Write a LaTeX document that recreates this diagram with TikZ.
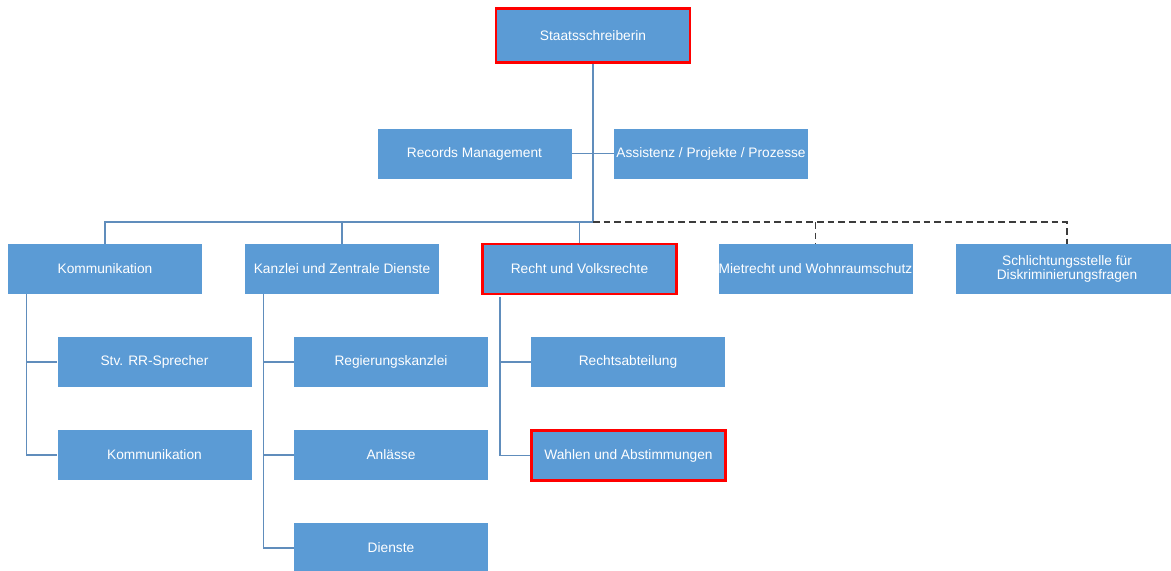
\documentclass[tikz,border=0pt]{standalone}
\usepackage{fontspec}
\setmainfont{Liberation Sans}
\usetikzlibrary{calc}
\definecolor{boxblue}{RGB}{91,155,213}
\definecolor{lineblue}{RGB}{96,141,188}
\definecolor{dashgray}{RGB}{60,60,60}
\tikzset{
  orgbox/.style={fill=boxblue, text=white, minimum width=145.5pt, minimum height=37.5pt,
    inner xsep=0pt, inner ysep=2pt, align=center, font=\fontsize{10.3}{11}\selectfont},
  marked/.style={draw=red, line width=2pt},
  conn/.style={draw=lineblue, line width=1.1pt},
  dashline/.style={draw=dashgray, line width=1.1pt, dash pattern=on 5pt off 3pt}
}
\begin{document}
\begin{tikzpicture}[x=0.75pt,y=-0.75pt]
  \useasboundingbox (0,0) rectangle (1171,571);

  % Top
  \node [orgbox,marked,minimum height=40.5pt] (ss) at (593,35.5) {Staatsschreiberin};
  \node [orgbox] (rm) at (474.5,153.5) {Records Management};
  \node [orgbox] (ass) at (711,153.5) {Assistenz / Projekte / Prozesse};
  \coordinate (bus) at (593,222);

  % Departments
  \node [orgbox] (kom) at (105,269) {Kommunikation};
  \node [orgbox] (kanz) at (342,269) {Kanzlei und Zentrale Dienste};
  \node [orgbox,marked] (recht) at (579.5,269) {Recht und Volksrechte};
  \node [orgbox] (miet) at (815.5,269) {Mietrecht und Wohnraumschutz};
  \node [orgbox,minimum width=166.5pt] (schl) at (1067,269) {Schlichtungsstelle für\\Diskriminierungsfragen};

  % Sections
  \node [orgbox] (stv) at (154.5,362) {Stv. RR-Sprecher};
  \node [orgbox] (kom2) at (154.5,455) {Kommunikation};
  \node [orgbox] (reg) at (391,362) {Regierungskanzlei};
  \node [orgbox] (anl) at (391,455) {Anlässe};
  \node [orgbox] (dien) at (391,548) {Dienste};
  \node [orgbox] (rab) at (628,362) {Rechtsabteilung};
  \node [orgbox,marked] (wahl) at (628.5,455.5) {Wahlen und Abstimmungen};

  % Lines
  \draw [conn] (ss.south) -- (bus) -| (kom.north);
  \draw [conn] (rm.east) -- (ass.west);
  \draw [conn] (bus -| kanz) -- (kanz.north);
  \draw [conn] (bus -| recht) -- (recht.north);
  \draw [dashline] (bus) -| (schl.north);
  \draw [dashline] (bus -| miet) -- (miet.north);

  \draw [conn] ([xshift=14.25pt]kom.south west) |- (kom2.west);
  \draw [conn] ([xshift=14.25pt]kom.south west |- stv) -- (stv.west);
  \draw [conn] ([xshift=14.25pt]kanz.south west) |- (dien.west);
  \draw [conn] ([xshift=14.25pt]kanz.south west |- reg) -- (reg.west);
  \draw [conn] ([xshift=14.25pt]kanz.south west |- anl) -- (anl.west);
  \draw [conn] ([xshift=14.25pt,yshift=-1pt]recht.south west) |- (wahl.west);
  \draw [conn] ([xshift=14.25pt]recht.south west |- rab) -- (rab.west);
\end{tikzpicture}
\end{document}
